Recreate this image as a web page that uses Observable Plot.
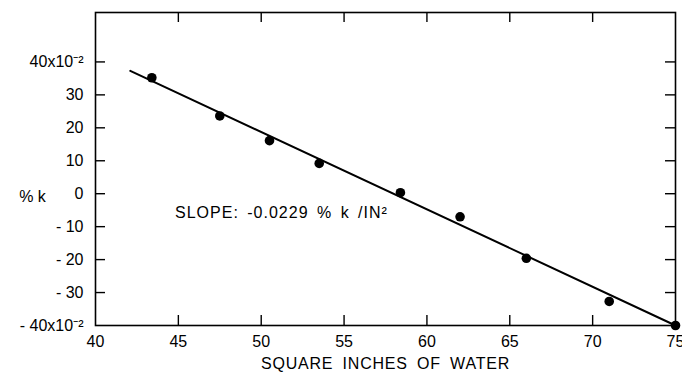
<!DOCTYPE html>
<html>
<head>
<meta charset="utf-8">
<script src="https://cdn.jsdelivr.net/npm/d3@7"></script>
<script src="https://cdn.jsdelivr.net/npm/@observablehq/plot@0.6"></script>
<style>
  html, body { margin: 0; padding: 0; background: white; }
  #chart svg { display: block; }
  g[aria-description="x-title"] text { letter-spacing: 0.8px; word-spacing: 4px; }
  g[aria-description="slope-note"] text { letter-spacing: 1px; word-spacing: 3px; }
</style>
</head>
<body>
<div id="chart"></div>
<script>
// Data
const waterArea = [43.4, 47.5, 50.5, 53.5, 58.4, 62.0, 66.0, 71.0, 75.0];
const pctK      = [35.2, 23.6, 16.1, 9.2, 0.3, -7.0, -19.6, -32.7, -40.0];
const fitX = [42.1, 75];
const fitY = [37.3, -40];

const xTicks = [40, 45, 50, 55, 60, 65, 70, 75];
const xTickLabels = ["40", "45", "50", "55", "60", "65", "70", "75"];
const yTicks = [40, 30, 20, 10, 0, -10, -20, -30, -40];
const yTickLabels = ["40x10\u207B\u00B2", "30", "20", "10", "0", "- 10", "- 20", "- 30", "- 40x10\u207B\u00B2"];
const innerXTicks = [45, 50, 55, 60, 65, 70];
const innerYTicks = [40, 30, 20, 10, 0, -10, -20, -30];

const xTitle = "SQUARE INCHES OF WATER";
const yTitle = "% k";
const noteText = ["SLOPE: -0.0229 % k /IN\u00B2"];
const noteX = [44.8];
const noteY = [-5.8];

const points = waterArea.map((x, i) => ({x, y: pctK[i]}));
const fit = fitX.map((x, i) => ({x, y: fitY[i]}));
const notes = noteText.map((t, i) => ({t, x: noteX[i], y: noteY[i]}));

const W = 682, H = 377;
const mL = 95, mR = 7, mT = 12, mB = 52;
const innerW = W - mL - mR, innerH = H - mT - mB;
const tickLen = 10;

const chart = Plot.plot({
  width: W,
  height: H,
  marginLeft: mL,
  marginRight: mR,
  marginTop: mT,
  marginBottom: mB,
  x: {domain: [40, 75]},
  y: {domain: [-40, 55]},
  style: {fontFamily: "'Liberation Sans', Arial, sans-serif", fontSize: "16px", color: "black", background: "white"},
  marks: [
    Plot.frame({stroke: "black", strokeWidth: 1.6}),
    // inward ticks
    Plot.tickX(innerXTicks, {x: (d) => d, insetTop: innerH - tickLen, stroke: "black", strokeWidth: 1.4}),
    Plot.tickX(innerXTicks, {x: (d) => d, insetBottom: innerH - tickLen, stroke: "black", strokeWidth: 1.4}),
    Plot.tickY(innerYTicks, {y: (d) => d, insetRight: innerW - tickLen, stroke: "black", strokeWidth: 1.4}),
    Plot.tickY(innerYTicks, {y: (d) => d, insetLeft: innerW - tickLen, stroke: "black", strokeWidth: 1.4}),
    // tick labels
    Plot.axisX(xTicks, {anchor: "bottom", tickSize: 0, tickPadding: 10, tickFormat: (d) => xTickLabels[xTicks.indexOf(d)], label: null, fontSize: 16}),
    Plot.axisY(yTicks, {anchor: "left", tickSize: 0, tickPadding: 12, tickFormat: (d) => yTickLabels[yTicks.indexOf(d)], label: null, fontSize: 16}),
    // titles
    Plot.text([xTitle], {frameAnchor: "bottom", dy: 43, text: (d) => d, fontSize: 16, textAnchor: "middle", ariaDescription: "x-title"}),
    Plot.text([yTitle], {frameAnchor: "left", dx: -63, dy: 28, text: (d) => d, fontSize: 16, textAnchor: "middle"}),
    // data
    Plot.line(fit, {x: "x", y: "y", stroke: "black", strokeWidth: 2}),
    Plot.dot(points, {x: "x", y: "y", r: 4.8, fill: "black", stroke: "none"}),
    Plot.text(notes, {x: "x", y: "y", text: "t", textAnchor: "start", fontSize: 16, ariaDescription: "slope-note"})
  ]
});
document.getElementById("chart").appendChild(chart);
</script>
</body>
</html>
